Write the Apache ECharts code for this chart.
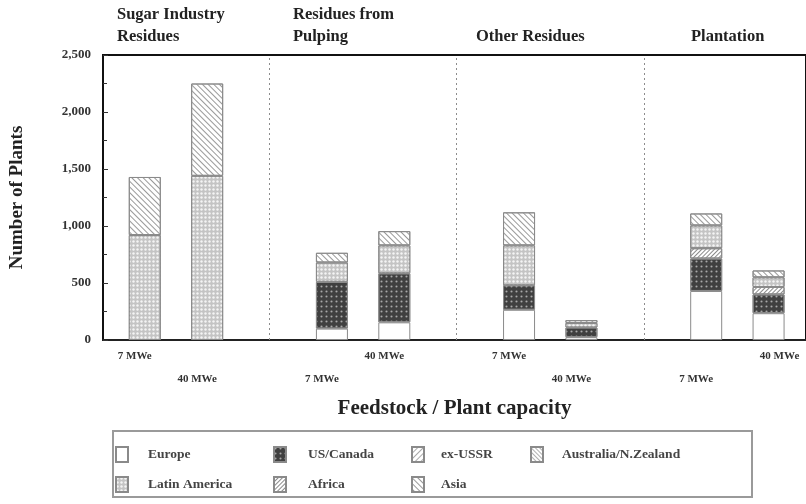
<!DOCTYPE html>
<html>
<head>
<meta charset="utf-8">
<script src="https://cdn.jsdelivr.net/npm/echarts@6/dist/echarts.min.js"></script>
<style>
  html, body { margin: 0; padding: 0; background: #fff; }
  #chart { width: 806px; height: 504px; }
</style>
</head>
<body>
<div id="chart"></div>
<script>
// Feedstock groups and plant capacities (two bars per group)
const groups = ['Sugar Industry\nResidues', 'Residues from\nPulping', 'Other Residues', 'Plantation'];
const capacities = ['7 MWe', '40 MWe'];

// Number of plants per region, bar order: group by group, 7 MWe then 40 MWe
const europe       = [0,    0,    100, 155, 265, 25, 430, 235];
const usCanada     = [0,    0,    410, 430, 215, 85, 285, 165];
const exUSSR       = [0,    0,    0,   0,   0,   0,  0,   0];
const africa       = [0,    0,    0,   0,   0,   0,  90,  65];
const latinAmerica = [920,  1440, 170, 245, 350, 40, 200, 85];
const australiaNZ  = [0,    0,    0,   0,   0,   0,  0,   0];
const asia         = [510,  810,  85,  125, 290, 25, 105, 60];

const yTicks = [0, 500, 1000, 1500, 2000, 2500];

// bar slots: each group takes two slots plus one empty slot between groups
const positions = [];
groups.forEach((g, gi) => capacities.forEach((c, ci) => positions.push(gi * 3 + ci)));
const barLabels = [];
groups.forEach(() => capacities.forEach(c => barLabels.push(c)));
const dividers = groups.slice(1).map((g, i) => (i + 1) * 3 - 1);
// capacity labels alternate between two rows under the axis
const labelRow = [1, 2, 2, 1, 1, 2, 2, 1];

const SERIF = '"Liberation Serif", "DejaVu Serif", serif';

function stripes(rot, color, gap) {
  return { symbol: 'rect', dashArrayX: [1, 0], dashArrayY: [1, gap], rotation: rot, color: color };
}

const regions = [
  { name: 'Europe', data: europe, color: '#ffffff', decal: null },
  { name: 'US/Canada', data: usCanada, color: '#404040',
    decal: { symbol: 'circle', symbolSize: 0.7, dashArrayX: [3, 1.5], dashArrayY: [3, 1.5], color: '#a8a8a8' } },
  { name: 'ex-USSR', data: exUSSR, color: '#ffffff', decal: stripes(-Math.PI / 4, '#aaa', 2.5) },
  { name: 'Africa', data: africa, color: '#ffffff', decal: stripes(-Math.PI / 4, '#8a8a8a', 2) },
  { name: 'Latin America', data: latinAmerica, color: '#c4c4c4',
    decal: { symbol: 'circle', symbolSize: 0.8, dashArrayX: [3, 1], dashArrayY: [3, 1], color: '#f4f4f4' } },
  { name: 'Australia/N.Zealand', data: australiaNZ, color: '#ffffff', decal: stripes(Math.PI / 4, '#b0b0b0', 1.6) },
  { name: 'Asia', data: asia, color: '#ffffff', decal: stripes(Math.PI / 4, '#999', 2.2) }
];

const series = regions.map((r, i) => {
  const s = {
    name: r.name,
    type: 'bar',
    stack: 'plants',
    xAxisIndex: 0,
    barWidth: 32,
    // value first so the stack adds up plant counts; slot position second
    dimensions: ['plants', 'slot'],
    encode: { x: 'slot', y: 'plants' },
    data: r.data.map((v, k) => v > 0
      ? { value: [v, positions[k]] }
      : { value: [0, positions[k]], itemStyle: { borderWidth: 0, opacity: 0 } }),
    itemStyle: { color: r.color, borderColor: '#8a8a8a', borderWidth: 1 }
  };
  if (r.decal) s.itemStyle.decal = r.decal;
  if (i === 0) {
    s.markLine = {
      silent: true,
      symbol: 'none',
      label: { show: false },
      lineStyle: { color: '#8c8c8c', type: [2, 3], width: 1 },
      data: dividers.map(d => ({ xAxis: d }))
    };
  }
  return s;
});

function capLabel(row) {
  return function (value) {
    const i = positions.indexOf(Math.round(value));
    if (i < 0 || labelRow[i] !== row) return '';
    return (i === positions.length - 1 ? '{r|' : '{l|') + barLabels[i] + '}';
  };
}
const capRich = {
  l: { padding: [0, 20, 0, 0], fontFamily: SERIF, fontWeight: 'bold', fontSize: 11, color: '#333' },
  r: { padding: [0, 0, 0, 22], fontFamily: SERIF, fontWeight: 'bold', fontSize: 11, color: '#333' }
};

const xBase = {
  type: 'value',
  min: -0.67,
  max: 10.6,
  splitLine: { show: false },
  axisTick: { show: false }
};

// column layout of the legend box
const legendCols = [
  { left: 115, gap: 15, names: ['Europe', 'Latin America'] },
  { left: 273, gap: 17, names: ['US/Canada', 'Africa'] },
  { left: 411, gap: 12, names: ['ex-USSR', 'Asia'] },
  { left: 530, gap: 14, names: ['Australia/N.Zealand'] }
];

const headerX = [117, 293, 476, 691];

const option = {
  animation: false,
  backgroundColor: '#ffffff',
  grid: {
    left: 103, right: -2, top: 55, bottom: 164,
    show: true, borderColor: '#111', borderWidth: 2, backgroundColor: 'transparent'
  },
  xAxis: [
    Object.assign({}, xBase, {
      position: 'bottom',
      axisLine: { show: true, onZero: false, lineStyle: { color: '#222', width: 2 } },
      axisLabel: {
        customValues: positions.filter((p, i) => labelRow[i] === 1),
        formatter: capLabel(1), rich: capRich, margin: 11
      },
      name: 'Feedstock / Plant capacity',
      nameLocation: 'middle',
      nameGap: 58,
      nameTextStyle: { fontFamily: SERIF, fontWeight: 'bold', fontSize: 21, color: '#222' }
    }),
    Object.assign({}, xBase, {
      position: 'bottom',
      offset: 23,
      axisLine: { show: false },
      axisLabel: {
        customValues: positions.filter((p, i) => labelRow[i] === 2),
        formatter: capLabel(2), rich: capRich, margin: 11
      }
    })
  ],
  yAxis: {
    type: 'value',
    min: 0,
    max: yTicks[yTicks.length - 1],
    interval: yTicks[1] - yTicks[0],
    axisLine: { show: true, onZero: false, lineStyle: { color: '#111', width: 2 } },
    axisTick: { show: true, inside: true, length: 5, lineStyle: { color: '#333' } },
    minorTick: { show: true, splitNumber: 2, length: 4, lineStyle: { color: '#333' } },
    splitLine: { show: false },
    axisLabel: {
      margin: 12,
      fontFamily: SERIF, fontWeight: 'bold', fontSize: 13, color: '#333',
      formatter: v => v.toLocaleString('en-US')
    },
    name: 'Number of Plants',
    nameLocation: 'middle',
    nameGap: 76,
    nameRotate: 90,
    nameTextStyle: { fontFamily: SERIF, fontWeight: 'bold', fontSize: 19, color: '#222' }
  },
  legend: legendCols.map(c => ({
    data: c.names,
    orient: 'vertical',
    left: c.left,
    top: 446,
    padding: 0,
    icon: 'rect',
    itemWidth: 12,
    itemHeight: 15,
    itemGap: 13,
    selectedMode: false,
    textStyle: { fontFamily: SERIF, fontWeight: 'bold', fontSize: 13.5, color: '#444', padding: [0, 0, 0, c.gap] }
  })),
  graphic: [
    {
      type: 'rect',
      shape: { x: 113, y: 431, width: 639, height: 66 },
      style: { fill: 'none', stroke: '#9a9a9a', lineWidth: 2 },
      silent: true
    }
  ].concat(groups.map((g, i) => ({
    type: 'text',
    left: headerX[i],
    top: g.indexOf('\n') >= 0 ? 4 : 26,
    silent: true,
    style: {
      text: g,
      font: 'bold 16.5px ' + SERIF,
      fill: '#222',
      lineHeight: 22
    }
  }))),
  series: series
};

const chart = echarts.init(document.getElementById('chart'), null, { renderer: 'canvas' });
chart.setOption(option);
</script>
</body>
</html>
